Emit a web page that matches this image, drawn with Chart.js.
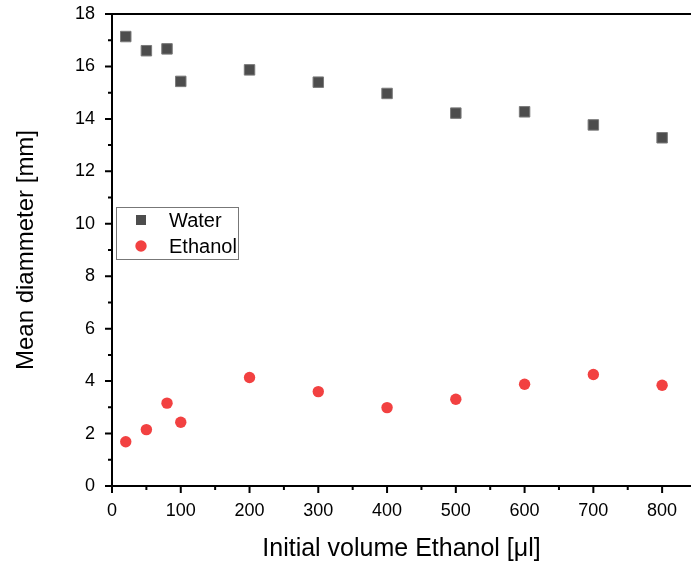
<!DOCTYPE html>
<html>
<head>
<meta charset="utf-8">
<script src="https://cdn.jsdelivr.net/npm/chart.js@4.4.0/dist/chart.umd.min.js"></script>
<style>
  html, body { margin: 0; padding: 0; background: #fff; overflow: hidden; }
  #wrap { width: 691px; height: 569px; position: relative; }
  canvas { display: block; }
</style>
</head>
<body>
<div id="wrap"><canvas id="chart"></canvas></div>
<script>
// initial ethanol volume (µl)
const volumes = [20, 50, 80, 100, 200, 300, 400, 500, 600, 700, 800];
// mean diameter (mm)
const water = [17.14, 16.60, 16.67, 15.43, 15.87, 15.40, 14.97, 14.22, 14.27, 13.77, 13.28];
const ethanol = [1.69, 2.15, 3.16, 2.43, 4.14, 3.60, 2.99, 3.31, 3.88, 4.25, 3.84];

const xTicks = [0, 100, 200, 300, 400, 500, 600, 700, 800];
const yTicks = [0, 2, 4, 6, 8, 10, 12, 14, 16, 18];

const FONT = 'Liberation Sans, Arial, sans-serif';

// axis frame, ticks (major + minor) and legend box
const framePlugin = {
    id: 'frame',
    afterDraw(chart) {
        const { ctx, chartArea: a, scales: { x, y } } = chart;
        ctx.save();
        ctx.strokeStyle = '#000';
        ctx.lineWidth = 2;
        ctx.beginPath();
        ctx.moveTo(a.right + 2, a.top);
        ctx.lineTo(a.left, a.top);
        ctx.lineTo(a.left, a.bottom);
        ctx.lineTo(a.right + 2, a.bottom);

        xTicks.forEach(v => {
            const px = x.getPixelForValue(v);
            ctx.moveTo(px, a.bottom);
            ctx.lineTo(px, a.bottom + 7);
            const mid = v + 50;
            if (mid < x.max) {
                const mx = x.getPixelForValue(mid);
                ctx.moveTo(mx, a.bottom);
                ctx.lineTo(mx, a.bottom + 4);
            }
        });
        yTicks.forEach(v => {
            const py = y.getPixelForValue(v);
            ctx.moveTo(a.left, py);
            ctx.lineTo(a.left - 7, py);
            if (v + 1 < y.max) {
                const my = y.getPixelForValue(v + 1);
                ctx.moveTo(a.left, my);
                ctx.lineTo(a.left - 4, my);
            }
        });
        ctx.stroke();

        // legend
        const lx = 116.5, ly = 207.5, lw = 122, lh = 52;
        ctx.fillStyle = '#fff';
        ctx.fillRect(lx, ly, lw, lh);
        ctx.strokeStyle = '#777';
        ctx.lineWidth = 1;
        ctx.strokeRect(lx, ly, lw, lh);

        ctx.font = '20px ' + FONT;
        ctx.textBaseline = 'middle';
        ctx.textAlign = 'left';
        chart.data.datasets.forEach((ds, i) => {
            const cy = 220 + i * 26;
            const cx = 141;
            ctx.fillStyle = ds.backgroundColor;
            if (ds.pointStyle === 'rect') {
                ctx.fillRect(cx - 5, cy - 5, 10, 10);
            } else {
                ctx.beginPath();
                ctx.arc(cx, cy, 5.7, 0, Math.PI * 2);
                ctx.fill();
            }
            ctx.fillStyle = '#000';
            ctx.fillText(ds.label, 169, cy + 1);
        });
        ctx.restore();
    }
};

new Chart(document.getElementById('chart'), {
    type: 'scatter',
    data: {
        datasets: [{
            label: 'Water',
            data: volumes.map((v, i) => ({ x: v, y: water[i] })),
            pointStyle: 'rect',
            pointRadius: 7.4,
            backgroundColor: '#4d4d4d',
            borderColor: '#7a7a7a',
            borderWidth: 1
        }, {
            label: 'Ethanol',
            data: volumes.map((v, i) => ({ x: v, y: ethanol[i] })),
            pointStyle: 'circle',
            pointRadius: 5.7,
            backgroundColor: '#f24141',
            borderColor: '#f24141',
            borderWidth: 0
        }]
    },
    options: {
        responsive: true,
        maintainAspectRatio: false,
        animation: false,
        layout: { autoPadding: false, padding: { top: 14, right: 0, left: 0, bottom: 0 } },
        plugins: {
            legend: { display: false },
            tooltip: { enabled: false }
        },
        scales: {
            x: {
                type: 'linear',
                min: 0,
                max: 842,
                afterBuildTicks: s => { s.ticks = xTicks.map(v => ({ value: v })); },
                afterFit: s => { s.height = 83; s.paddingLeft = 0; s.paddingRight = 0; },
                grid: { display: false, drawTicks: false },
                border: { display: false },
                ticks: { color: '#000', font: { family: FONT, size: 18 }, padding: 14, maxRotation: 0 },
                title: {
                    display: true,
                    text: 'Initial volume Ethanol [\u03bcl]',
                    color: '#000',
                    font: { family: FONT, size: 25 },
                    padding: { top: 0, bottom: 5 }
                }
            },
            y: {
                min: 0,
                max: 18,
                afterBuildTicks: s => { s.ticks = yTicks.map(v => ({ value: v })); },
                afterFit: s => { s.width = 112; s.paddingTop = 0; s.paddingBottom = 0; },
                grid: { display: false, drawTicks: false },
                border: { display: false },
                ticks: { color: '#000', font: { family: FONT, size: 18 }, padding: 17 },
                title: {
                    display: true,
                    text: 'Mean diammeter [mm]',
                    color: '#000',
                    font: { family: FONT, size: 24 },
                    padding: { top: 12, bottom: 0 }
                }
            }
        }
    },
    plugins: [framePlugin]
});
</script>
</body>
</html>
